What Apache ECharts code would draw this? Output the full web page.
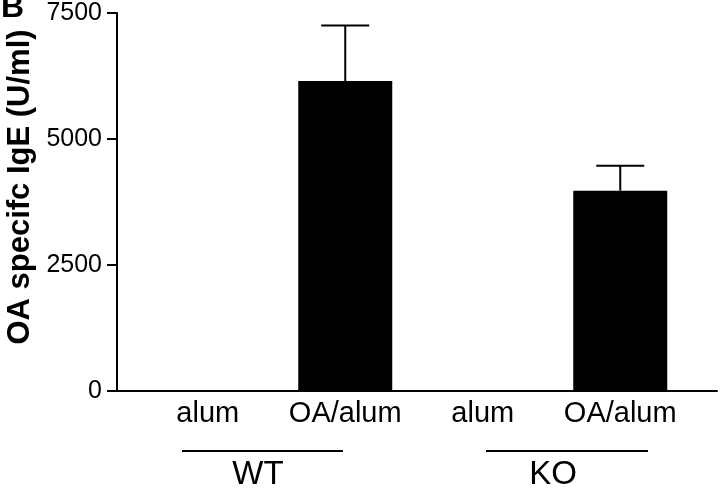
<!DOCTYPE html>
<html>
<head>
<meta charset="utf-8">
<script src="https://cdn.jsdelivr.net/npm/echarts@6/dist/echarts.min.js"></script>
<style>
  html, body { margin: 0; padding: 0; background: #fff; }
</style>
</head>
<body>
<div id="container" style="width:720px; height:489px"></div>
<script>
// data
var categories = ["alum", "OA/alum", "alum", "OA/alum"];
var igeMean = [20, 6150, 0, 3975];          // OA specific IgE (U/ml)
var igeUpper = [null, 7250, null, 4470];    // top of the error bar
var groups = ["WT", "KO"];
var yTicks = { min: 0, max: 7500, interval: 2500 };

var font = "Liberation Sans, Arial, Helvetica, sans-serif";

var errData = [];
for (var i = 0; i < categories.length; i++) {
  if (igeUpper[i] != null) errData.push([i, igeMean[i], igeUpper[i]]);
}

var option = {
  backgroundColor: "#fff",
  animation: false,
  grid: [
    { left: 139, right: 31, top: 13, bottom: 98 }, // bars
    { left: 117, right: 3, top: 13, bottom: 98 }   // axes lines
  ],
  xAxis: [
    {
      gridIndex: 0,
      type: "category",
      data: categories,
      axisLine: { show: false },
      axisTick: { show: false },
      axisLabel: { color: "#000", fontSize: 29, fontFamily: font, margin: 8, interval: 0, hideOverlap: false }
    },
    {
      gridIndex: 1,
      type: "value",
      min: 0,
      max: 1,
      axisLine: { show: true, lineStyle: { color: "#000", width: 2 } },
      axisTick: { show: false },
      axisLabel: { show: false },
      splitLine: { show: false }
    }
  ],
  yAxis: [
    { gridIndex: 0, type: "value", min: yTicks.min, max: yTicks.max, show: false },
    {
      gridIndex: 1,
      type: "value",
      min: yTicks.min,
      max: yTicks.max,
      interval: yTicks.interval,
      axisLine: { show: true, lineStyle: { color: "#000", width: 2 } },
      axisTick: { show: true, length: 10, lineStyle: { color: "#000", width: 2 } },
      axisLabel: {
        color: "#000", fontSize: 25, fontFamily: font, margin: 15,
        formatter: function (v) { return String(v); }
      },
      splitLine: { show: false }
    }
  ],
  graphic: [
    { type: "text", x: 1, y: 24, style: { text: "B", fontSize: 32, fontWeight: "bold", fontFamily: font, fill: "#000", verticalAlign: "bottom" } },
    { type: "text", x: 20, y: 187, rotation: Math.PI / 2,
      style: { text: "OA specifc IgE (U/ml)", fontSize: 31, fontWeight: "bold", fontFamily: font, fill: "#000", align: "center", verticalAlign: "middle" } },
    { type: "line", shape: { x1: 182, y1: 451, x2: 343, y2: 451 }, style: { stroke: "#000", lineWidth: 2 } },
    { type: "line", shape: { x1: 486, y1: 451, x2: 648, y2: 451 }, style: { stroke: "#000", lineWidth: 2 } },
    { type: "text", x: 258, y: 475, style: { text: groups[0], fontSize: 33, fontFamily: font, fill: "#000", align: "center", verticalAlign: "middle" } },
    { type: "text", x: 553, y: 475, style: { text: groups[1], fontSize: 33, fontFamily: font, fill: "#000", align: "center", verticalAlign: "middle" } }
  ],
  series: [
    {
      type: "bar",
      xAxisIndex: 0,
      yAxisIndex: 0,
      data: igeMean,
      barWidth: 94,
      itemStyle: { color: "#000" },
      z: 3
    },
    {
      type: "custom",
      xAxisIndex: 0,
      yAxisIndex: 0,
      data: errData,
      z: 4,
      renderItem: function (params, api) {
        var base = api.coord([api.value(0), api.value(1)]);
        var top = api.coord([api.value(0), api.value(2)]);
        var half = 24;
        var st = { stroke: "#000", lineWidth: 2 };
        return {
          type: "group",
          children: [
            { type: "line", shape: { x1: base[0], y1: base[1], x2: top[0], y2: top[1] }, style: st },
            { type: "line", shape: { x1: top[0] - half, y1: top[1], x2: top[0] + half, y2: top[1] }, style: st }
          ]
        };
      }
    }
  ]
};

var dom = document.getElementById("container");
var myChart = echarts.init(dom);
myChart.setOption(option, true);
</script>
</body>
</html>
